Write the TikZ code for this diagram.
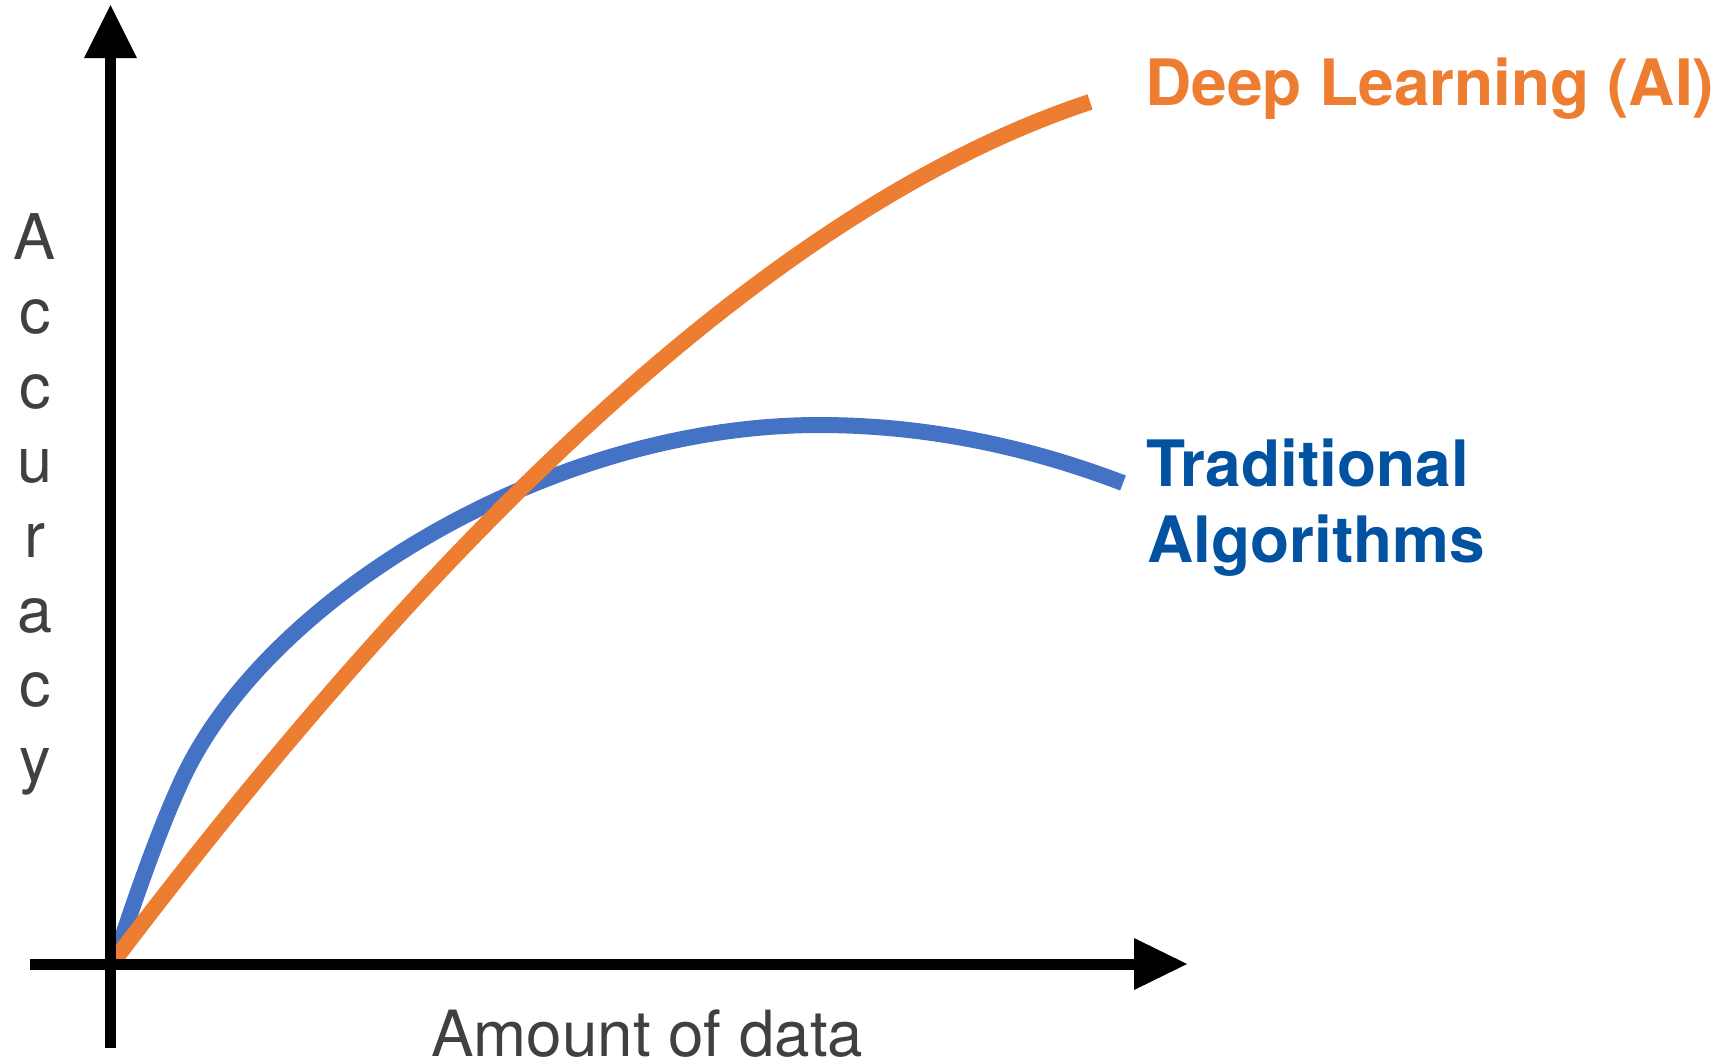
\documentclass[tikz,border=0pt]{standalone}
\usepackage{fontspec}
\setmainfont{TeX Gyre Heros}

\definecolor{curveblue}{HTML}{4472C4}
\definecolor{curveorange}{HTML}{ED7D31}
\definecolor{textblue}{HTML}{0152A0}
\definecolor{textorange}{HTML}{ED7D31}
\definecolor{labelgray}{HTML}{404040}

\begin{document}
\begin{tikzpicture}[x=1pt, y=-1pt,
  axisline/.style={line width=11pt, draw=black, line cap=butt},
  axishead/.style={fill=black},
  trend/.style={line width=16pt, line cap=butt, line join=round},
  seriesname/.style={inner sep=0pt, font=\fontsize{64}{77}\selectfont\bfseries, anchor=base west},
  axisname/.style={inner sep=0pt, text=labelgray, font=\fontsize{63.7}{76}\selectfont}
]
\useasboundingbox (0,0) rectangle (1734,1061);

% axis end points
\coordinate (ybottom) at (110.5,1048);
\coordinate (yshaft)  at (110.5,50);
\coordinate (ytip)    at (110.5,5);
\coordinate (xleft)   at (30,964);
\coordinate (xshaft)  at (1140,964);
\coordinate (xtip)    at (1187,964);

% curve anchor points
\coordinate (start)   at (114,962);
\coordinate (bend)    at (182,780);
\coordinate (peak)    at (819,425);
\coordinate (tradend) at (1123,483);
\coordinate (dlstart) at (113,962);
\coordinate (dlend)   at (1090,102);

% traditional algorithms: rises fast, levels off, then drops
\draw[trend, curveblue] (start)
  .. controls (133,905) and (156.8,834.6) .. (bend)
  .. controls (266,598) and (549,425) .. (peak)
  .. controls (920.3,425) and (1021.7,444.3) .. (tradend);

% deep learning: keeps growing with more data
\draw[trend, curveorange] (dlstart)
  .. controls (463,500) and (790,201) .. (dlend);

% axes with solid triangular heads
\draw[axisline] (ybottom) -- (yshaft);
\fill[axishead] (ytip) -- (84,58) -- (137,58) -- cycle;
\draw[axisline] (xleft) -- (xshaft);
\fill[axishead] (xtip) -- (1134,938) -- (1134,990) -- cycle;

% series labels
\node[seriesname, text=textorange] (dl) at (1145,105) {Deep Learning (AI)};
\node[seriesname, text=textblue] (ta1) at (1146,486) {Traditional};
\node[seriesname, text=textblue] (ta2) at (1147,562) {Algorithms};

% axis labels
\node[axisname, anchor=base west] (xlabel) at (431,1056) {Amount of data};
\node[axisname, anchor=north, align=center, font=\fontsize{63}{74.6}\selectfont]
  (ylabel) at (35,213) {A\\c\\c\\u\\r\\a\\c\\y};
\end{tikzpicture}
\end{document}
